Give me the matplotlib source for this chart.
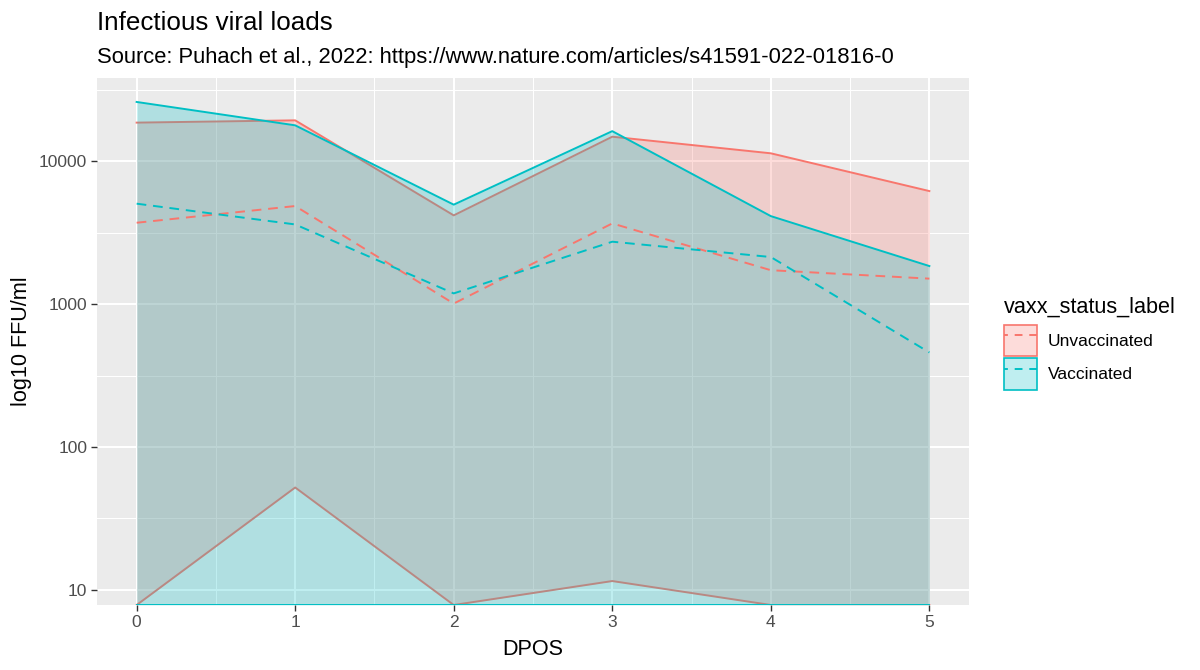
import matplotlib
matplotlib.use("Agg")
import matplotlib.pyplot as plt
from matplotlib.patches import Patch
from matplotlib.lines import Line2D
from matplotlib.legend_handler import HandlerTuple
from matplotlib.ticker import FixedLocator, NullFormatter
import numpy as np

plt.rcParams['font.family'] = ['Liberation Sans', 'DejaVu Sans']

# -------------------------
# DATA
# -------------------------
dpos = [0, 1, 2, 3, 4, 5]
groups = ["Unvaccinated", "Vaccinated"]

unvax_max = [18700, 19400, 4190, 14900, 11400, 6200]
unvax_med = [3720, 4870, 1010, 3680, 1730, 1510]
unvax_min = [0, 52, 0, 11.5, 0, 0]

vax_max = [26100, 17900, 4980, 16300, 4140, 1850]
vax_med = [5060, 3620, 1190, 2740, 2140, 459]
vax_min = [0, 0, 0, 0, 0, 0]

colors = {"Unvaccinated": "#F8766D", "Vaccinated": "#00BFC4"}

# -------------------------
# LIMITS (ggplot style 5% expansion on log scale, zeros go to panel floor)
# -------------------------
all_vals = np.array(unvax_max + unvax_med + unvax_min + vax_max + vax_med + vax_min, dtype=float)
pos = np.log10(all_vals[all_vals > 0])
lo, hi = pos.min(), pos.max()
pad = 0.05 * (hi - lo)
ymin, ymax = 10 ** (lo - pad), 10 ** (hi + pad)


def floor0(v):
    v = np.array(v, dtype=float)
    return np.where(v > 0, v, ymin)


BASE = 15.6

# -------------------------
# PLOT
# -------------------------
fig = plt.figure(figsize=(12, 6.7), dpi=100)
ax = fig.add_axes([97 / 1200, 65 / 670, 872 / 1200, 527 / 670])
ax.set_facecolor("#EBEBEB")
ax.set_yscale("log")
ax.set_xlim(-0.25, 5.25)
ax.set_ylim(ymin, ymax)

# grid
ax.set_axisbelow(True)
yt = [10, 100, 1000, 10000]
ax.yaxis.set_major_locator(FixedLocator(yt))
ax.yaxis.set_minor_locator(FixedLocator([10 ** 1.5, 10 ** 2.5, 10 ** 3.5, 10 ** 4.5]))
ax.yaxis.set_minor_formatter(NullFormatter())
ax.set_yticklabels([str(t) for t in yt])
ax.set_xticks(dpos)
ax.set_xticks([0.5, 1.5, 2.5, 3.5, 4.5], minor=True)
ax.grid(which="major", color="white", linewidth=1.5)
ax.grid(which="minor", color="white", linewidth=0.75)
ax.tick_params(which="minor", length=0)
ax.tick_params(which="major", length=4, width=1, color="#333333",
               labelsize=BASE * 0.8, labelcolor="#4D4D4D", pad=3)
for s in ax.spines.values():
    s.set_visible(False)

series = [
    ("Unvaccinated", unvax_min, unvax_med, unvax_max),
    ("Vaccinated", vax_min, vax_med, vax_max),
]

# ribbons with outlines, drawn group by group (same zorder keeps draw order)
for name, mn, md, mx in series:
    c = colors[name]
    ax.fill_between(dpos, floor0(mn), floor0(mx), color=c, alpha=0.25,
                    linewidth=0, zorder=2)
    ax.plot(dpos, floor0(mx), color=c, linewidth=1.4, zorder=2)
    ax.plot(dpos, floor0(mn), color=c, linewidth=1.4, zorder=2)

# medians
for name, mn, md, mx in series:
    ax.plot(dpos, md, color=colors[name], linewidth=1.4,
            linestyle=(0, (5, 3.5)), zorder=3)

ax.set_xlabel("DPOS", fontsize=BASE, labelpad=7)
ax.set_ylabel("log10 FFU/ml", fontsize=BASE, labelpad=5)

fig.text(97 / 1200, 1 - 30 / 670, "Infectious viral loads", fontsize=BASE * 1.2,
         ha="left", va="baseline")
fig.text(97 / 1200, 1 - 63 / 670,
         "Source: Puhach et al., 2022: https://www.nature.com/articles/s41591-022-01816-0",
         fontsize=15.8, ha="left", va="baseline")

handles = [(Patch(facecolor=colors[g], alpha=0.25, edgecolor="none"),
            Patch(facecolor="none", edgecolor=colors[g], linewidth=1.2),
            Line2D([], [], color=colors[g], linewidth=1.4, linestyle=(2, (4, 3.5))))
           for g in groups]
leg = fig.legend(handles, groups, handler_map={tuple: HandlerTuple(ndivide=1, pad=0)},
                 loc="upper left", bbox_to_anchor=(995 / 1200, 1 - 288 / 670),
                 frameon=False, title="vaxx_status_label", title_fontsize=BASE,
                 fontsize=BASE * 0.8, handlelength=1.95, handleheight=2.45,
                 labelspacing=0.1, handletextpad=0.6, borderpad=0,
                 alignment="left")
leg._legend_box.sep = 5

fig.savefig("out.png", dpi=100)
